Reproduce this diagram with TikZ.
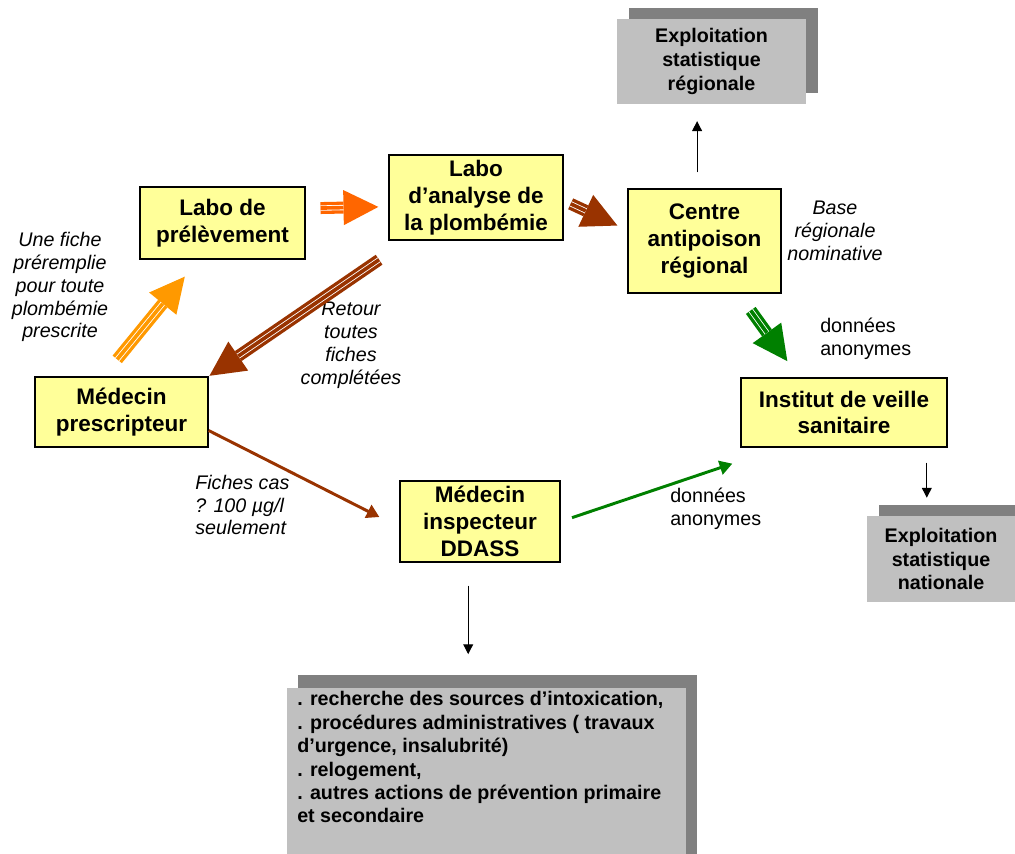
\documentclass[tikz,border=0pt]{standalone}
\usepackage{fontspec}
\setmainfont{Liberation Sans}
\usetikzlibrary{arrows.meta,shadows,calc}

\definecolor{boxyellow}{HTML}{FFFF99}
\definecolor{greyfront}{HTML}{C0C0C0}
\definecolor{greyshadow}{HTML}{808080}
\definecolor{orangeA}{HTML}{FF6600}
\definecolor{orangeB}{HTML}{FF9900}
\definecolor{brownA}{HTML}{993300}
\definecolor{greenA}{HTML}{008000}

\begin{document}
\begin{tikzpicture}[x=0.025cm, y=-0.025cm,
    ybox/.style={draw=black, line width=0.9pt, fill=boxyellow, align=center, inner sep=0pt,
      font=\bfseries\fontsize{16}{19}\selectfont},
    gbox/.style={fill=greyfront, align=center, inner sep=0pt,
      font=\bfseries\fontsize{14}{17}\selectfont,
      drop shadow={shadow xshift=8.5pt, shadow yshift=7.8pt, fill=greyshadow, opacity=1}},
    note/.style={align=center, inner sep=0pt, font=\itshape\fontsize{14}{16.3}\selectfont},
    plain/.style={align=left, inner sep=0pt, font=\fontsize{14}{16.3}\selectfont},
    fat/.style={line width=8.5pt, -{Triangle[length=24.8pt, width=25pt, line width=0pt]}},
    stripe/.style={draw=white, line width=0.6pt, double=#1, double distance=2.6pt},
    thin/.style={draw=black, line width=0.75pt, -{Triangle[length=7pt, width=7pt]}},
    flow/.style={draw=#1, line width=2.1pt, -{Triangle[length=9pt, width=10pt]}}]

    \useasboundingbox (0,0) rectangle (1015,854);
    \clip (0,0) rectangle (1015,854);

    \node[ybox, minimum width=4.125cm, minimum height=1.8cm] (prelev) at (222.5,223) {Labo de\\prélèvement};
    \node[ybox, minimum width=4.35cm, minimum height=2.125cm] (analyse) at (476,197.5) {Labo\\d’analyse de\\la plombémie};
    \node[ybox, minimum width=3.825cm, minimum height=2.6cm] (centre) at (704.5,241) {Centre\\antipoison\\régional};
    \node[ybox, minimum width=4.325cm, minimum height=1.75cm] (prescr) at (121.5,412) {Médecin\\prescripteur};
    \node[ybox, minimum width=5.15cm, minimum height=1.725cm] (institut) at (844,412.5) {Institut de veille\\sanitaire};
    \node[ybox, minimum width=4cm, minimum height=2.025cm] (inspect) at (480,521.5) {Médecin\\inspecteur\\DDASS};

    \node[gbox, minimum width=4.725cm, minimum height=2.125cm] (expreg) at (711.5,61.5) {Exploitation\\statistique\\régionale};
    \node[gbox, minimum width=3.7cm, minimum height=2.15cm] (expnat) at (941,559) {Exploitation\\statistique\\nationale};

    \fill[greyshadow] (298,675) rectangle (697,870);
    \fill[greyfront] (287,688) rectangle (686,870);
    \node[align=left, inner sep=0pt, anchor=north west, font=\bfseries\fontsize{14}{16.7}\selectfont] (actions) at (297,691)
      {. recherche des sources d’intoxication,\\. procédures administratives ( travaux\\d’urgence, insalubrité)\\. relogement,\\. autres actions de prévention primaire\\et secondaire};

    \node[note] (notefiche) at (60,287) {Une fiche\\préremplie\\pour toute\\plombémie\\prescrite};
    \node[note] (noteretour) at (351,345) {Retour\\toutes\\fiches\\complétées};
    \node[note] (notebase) at (835,231) {Base\\régionale\\nominative};
    \node[note, align=left, anchor=west] (notecas) at (195,505) {Fiches cas\\? 100 µg/l\\seulement};
    \node[plain, anchor=west] (anonA) at (820,339) {données\\anonymes};
    \node[plain, anchor=west] (anonB) at (670,509) {données\\anonymes};

    \draw[fat, orangeA, shorten <=10.6pt, shorten >=7.1pt] (prelev.10) -- (analyse.186);
    \draw[stripe=orangeA, shorten <=10.6pt, shorten >=31.9pt] (prelev.10) -- (analyse.186);

    \draw[fat, brownA, shorten <=5.5pt, shorten >=7.8pt] (analyse.-2) -- (centre.172);
    \draw[stripe=brownA, shorten <=5.5pt, shorten >=32.6pt] (analyse.-2) -- (centre.172);

    \draw[fat, orangeB, shorten <=15.6pt, shorten >=15.6pt] (prescr.117) -- (prelev.237);
    \draw[stripe=orangeB, shorten <=15.6pt, shorten >=40.4pt] (prescr.117) -- (prelev.237);

    \draw[fat, brownA, shorten <=24pt, shorten >=0.7pt] (analyse.212) -- (prescr.north east);
    \draw[stripe=brownA, shorten <=24pt, shorten >=25.5pt] (analyse.212) -- (prescr.north east);

    \draw[fat, greenA, shorten <=14.7pt, shorten >=14.2pt] (centre.303) -- (institut.142);
    \draw[stripe=greenA, shorten <=14.7pt, shorten >=39pt] (centre.303) -- (institut.142);

    \draw[thin, shorten <=11.3pt, shorten >=12pt] (centre.98) -- (centre.98 |- expreg.south);
    \draw[thin, shorten <=10.6pt, shorten >=12.8pt] (institut.337) -- (institut.337 |- expnat.north);
    \draw[thin, shorten <=16.3pt, shorten >=26.2pt] (inspect.254) -- (inspect.254 |- actions.north);

    \draw[flow=brownA, shorten >=15.9pt] (prescr.348) -- (inspect.184);
    \draw[flow=greenA, shorten <=8.5pt] (inspect.east) -- ($(institut.south west)+(-8,16)$);

\end{tikzpicture}
\end{document}
